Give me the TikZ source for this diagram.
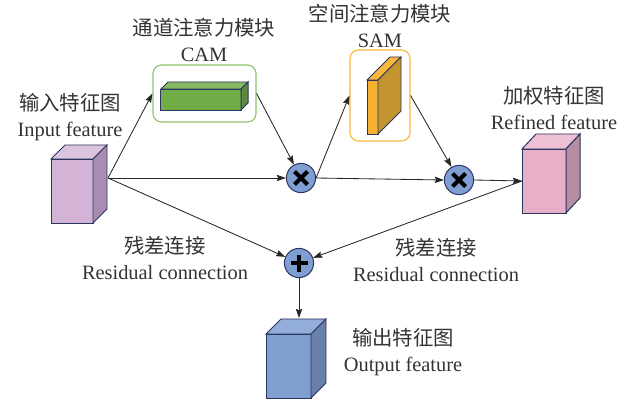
\documentclass[tikz,border=0pt]{standalone}
\usepackage{fontspec}
\setmainfont{Liberation Serif}
\newfontfamily\cjk{Noto Sans CJK SC}
\usetikzlibrary{arrows.meta}
\definecolor{edgenavy}{HTML}{2B3560}
\definecolor{textgray}{HTML}{333333}
\definecolor{opblue}{HTML}{7F9ED2}
\definecolor{inpfront}{HTML}{D3B4D6}
\definecolor{inptop}{HTML}{DCC3DE}
\definecolor{inpside}{HTML}{A98CB1}
\definecolor{reffront}{HTML}{E8AFC8}
\definecolor{reftop}{HTML}{EEC0D4}
\definecolor{refside}{HTML}{B68CA0}
\definecolor{outfront}{HTML}{7E9FCF}
\definecolor{outtop}{HTML}{92AED8}
\definecolor{outside}{HTML}{6A80A8}
\definecolor{camfront}{HTML}{70AD47}
\definecolor{camtop}{HTML}{86B964}
\definecolor{camside}{HTML}{5B8A3C}
\definecolor{camline}{HTML}{8CC36A}
\definecolor{samfront}{HTML}{F5B131}
\definecolor{samtop}{HTML}{F8B83D}
\definecolor{samside}{HTML}{C4942F}
\definecolor{samline}{HTML}{F8B53C}
\tikzstyle{face}=[draw=edgenavy, line width=0.7pt, inner sep=0pt, outer sep=0pt]
\tikzstyle{module}=[draw, rounded corners=6pt, line width=0.8pt, inner sep=0pt]
\tikzstyle{op}=[circle, draw=edgenavy, fill=opblue, line width=0.7pt, minimum size=0.73cm, inner sep=0pt]
\tikzstyle{opsign}=[line width=3pt, black]
\tikzstyle{flow}=[-{Stealth[length=6.5pt, width=4.5pt, inset=1pt]}, line width=0.6pt, black!85]
\tikzstyle{caption}=[align=center, text=textgray, inner sep=0pt, font=\fontsize{14.5}{18.5}\selectfont]

\begin{document}
\begin{tikzpicture}[x=0.025cm, y=-0.025cm]
        \useasboundingbox (0,0) rectangle (640,401);
        % modules
        \node[module, draw=camline, minimum width=2.575cm, minimum height=1.425cm] (cam) at (204.5, 93.5) {};
        \node[module, draw=samline, minimum width=1.5cm, minimum height=2.275cm]   (sam) at (380, 95.5) {};
        % feature cubes (front faces)
        \node[face, fill=inpfront, minimum width=1.05cm, minimum height=1.6cm]   (inp) at (72, 191) {};
        \node[face, fill=camfront, minimum width=2cm, minimum height=0.525cm]    (bar) at (201, 99.5) {};
        \node[face, fill=samfront, minimum width=0.275cm, minimum height=1.35cm] (slab) at (372.5, 107) {};
        \node[face, fill=reffront, minimum width=1.1cm, minimum height=1.6cm]    (ref) at (544, 181) {};
        \node[face, fill=outfront, minimum width=1.125cm, minimum height=1.6cm]  (out) at (288.5, 366) {};
        % top and side faces
        \draw[face, fill=inptop]  (inp.north west) -- ++(14,-14) -- ++(42,0) -- (inp.north east) -- cycle;
        \draw[face, fill=inpside] (inp.north east) -- ++(14,-14) -- ++(0,64) -- (inp.south east) -- cycle;
        \draw[face, fill=camtop]  (bar.north west) -- ++(7,-7) -- ++(80,0) -- (bar.north east) -- cycle;
        \draw[face, fill=camside] (bar.north east) -- ++(7,-7) -- ++(0,21) -- (bar.south east) -- cycle;
        \draw[face, fill=samtop]  (slab.north west) -- ++(23,-23) -- ++(11,0) -- (slab.north east) -- cycle;
        \draw[face, fill=samside] (slab.north east) -- ++(23,-23) -- ++(0,54) -- (slab.south east) -- cycle;
        \draw[face, fill=reftop]  (ref.north west) -- ++(14,-15) -- ++(44,0) -- (ref.north east) -- cycle;
        \draw[face, fill=refside] (ref.north east) -- ++(14,-15) -- ++(0,64) -- (ref.south east) -- cycle;
        \draw[face, fill=outtop]  (out.north west) -- ++(15,-15) -- ++(45,0) -- (out.north east) -- cycle;
        \draw[face, fill=outside] (out.north east) -- ++(15,-15) -- ++(0,64) -- (out.south east) -- cycle;
        % operators
        \node[op] (mul1) at (301, 178) {};
        \node[op] (mul2) at (459, 180) {};
        \node[op] (add)  at (299, 263) {};
        \draw[opsign] (mul1) ++(-6.5,-6.5) -- ++(13,13) ++(0,-13) -- ++(-13,13);
        \draw[opsign] (mul2) ++(-6.5,-6.5) -- ++(13,13) ++(0,-13) -- ++(-13,13);
        \draw[opsign, line width=3.3pt] (add) ++(-8.5,0) -- ++(17,0) ++(-8.5,-8.5) -- ++(0,17);
        % captions
        \node[caption] (inplbl) at (70, 117)  {{\cjk 输入特征图}\\Input feature};
        \node[caption] (camlbl) at (204, 40)  {{\cjk 通道注意力模块}\\CAM};
        \node[caption] (samlbl) at (380, 26)  {{\cjk 空间注意力模块}\\SAM};
        \node[caption] (reflbl) at (554, 108) {{\cjk 加权特征图}\\Refined feature};
        \node[caption] (reslbl1) at (165, 258) {{\cjk 残差连接}\\Residual connection};
        \node[caption] (reslbl2) at (436, 260) {{\cjk 残差连接}\\Residual connection};
        \node[caption] (outlbl) at (403, 352) {{\cjk 输出特征图}\\Output feature};
        % connectors
        \coordinate (inpout) at (108, 178);
        \coordinate (outin) at (299, 318);
        \draw[flow] (inpout) -- (cam.west);
        \draw[flow] (inpout) -- (mul1.west);
        \draw[flow] (inpout) -- (add);
        \draw[flow] (cam.east) -- (mul1);
        \draw[flow] (mul1.east) -- (sam.west);
        \draw[flow] (mul1.east) -- (mul2.west);
        \draw[flow] (sam.east) -- (mul2);
        \draw[flow] (mul2.east) -- (ref.west);
        \draw[flow] (ref.west) -- (add);
        \draw[flow] (add) -- (outin);
    \end{tikzpicture}
\end{document}
